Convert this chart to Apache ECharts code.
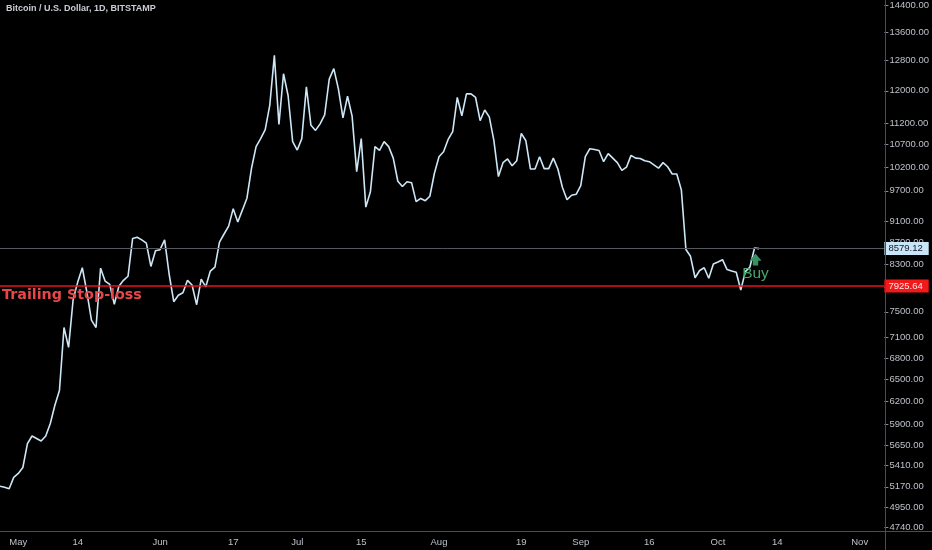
<!DOCTYPE html>
<html>
<head>
<meta charset="utf-8">
<script src="https://cdn.jsdelivr.net/npm/echarts@6/dist/echarts.min.js"></script>
<style>
html,body{margin:0;padding:0;background:#000;}
#c{width:932px;height:550px;}
</style>
</head>
<body>
<div id="c"></div>
<script>
// ---- data ----
const startDate = [2019, 3, 27]; // 27 Apr 2019, one value per day
const closes = [
  5177, 5165, 5150, 5275,
  5320, 5387, 5667, 5760, 5730, 5700, 5760, 5915, 6150, 6345,
  7254, 6954, 7703, 7990, 8237, 7820, 7369, 7254, 8230, 8006,
  7950, 7622, 7920, 8020, 8090, 8765, 8790, 8740, 8680, 8260, 8540,
  8560, 8740, 8120, 7664, 7770, 7810, 8020, 7940, 7615, 8040,
  7910, 8180, 8250, 8700, 8850, 9000, 9340, 9080, 9310, 9550,
  10177, 10656, 10840, 11050, 11640, 12938, 11170, 12442, 11880, 10770,
  10580, 10840, 12100, 11150, 11030, 11185, 11400, 12300, 12580, 12050,
  11330, 11860, 11370, 10106, 10840, 9370, 9680, 10656, 10570, 10770,
  10656, 10400, 9900, 9790, 9890, 9870, 9480, 9545, 9500, 9590, 10070,
  10430, 10540, 10820, 11000, 11830, 11380, 11920, 11920, 11830, 11260,
  11520, 11353, 10800, 10000, 10300, 10380, 10230, 10340, 10960, 10790,
  10160, 10160, 10430, 10170, 10170, 10400, 10160, 9770, 9520, 9610, 9630,
  9810, 10430, 10610, 10590, 10570, 10320, 10500, 10400, 10300, 10130,
  10200, 10460, 10400, 10390, 10340, 10320, 10250, 10180, 10300, 10210,
  10055, 10055, 9720, 8562, 8440, 8064, 8190, 8237, 8055, 8305,
  8340, 8380, 8205, 8180, 8160, 7857, 8170, 8250, 8590, 8579.12
];
const yTicks = [4740, 4950, 5170, 5410, 5650, 5900, 6200, 6500, 6800, 7100, 7500, 7900,
  8300, 8700, 9100, 9700, 10200, 10700, 11200, 12000, 12800, 13600, 14400];
const xTickDates = [[2019, 4, 1], [2019, 4, 14], [2019, 5, 1], [2019, 5, 17], [2019, 6, 1],
  [2019, 6, 15], [2019, 7, 1], [2019, 7, 19], [2019, 8, 1], [2019, 8, 16], [2019, 9, 1],
  [2019, 9, 14], [2019, 10, 1]];
const monthNames = ['Jan','Feb','Mar','Apr','May','Jun','Jul','Aug','Sep','Oct','Nov','Dec'];
const lastPrice = 8579.12;
const stopLoss = 7925.64;
const buyDate = [2019, 9, 9];
const titleText = 'Bitcoin / U.S. Dollar, 1D, BITSTAMP';
const stopLabel = 'Trailing Stop-loss';
const buyLabel = 'Buy';

// ---- build ----
const toTs = (d) => new Date(d[0], d[1], d[2]).getTime();
const seriesData = closes.map((v, i) => [new Date(startDate[0], startDate[1], startDate[2] + i).getTime(), v]);
const xMin = toTs(startDate);
const xMax = xMin + 193.4 * 86400000;
const xTickValues = xTickDates.map(toTs);
const font = '"Liberation Sans", Arial, sans-serif';
const axisText = '#bcc0c9';
const frame = '#4a4d55';

const chart = echarts.init(document.getElementById('c'));
chart.setOption({
  backgroundColor: '#000000',
  animation: false,
  grid: { left: 0, right: 47, top: 0, bottom: 19 },
  xAxis: {
    type: 'value',
    min: xMin,
    max: xMax,
    axisLine: { show: false },
    axisTick: { show: false },
    splitLine: { show: false },
    axisLabel: {
      customValues: xTickValues,
      color: axisText,
      fontSize: 9.5,
      fontFamily: font,
      margin: 6,
      hideOverlap: false,
      formatter: function (v) {
        const d = new Date(v);
        return d.getDate() === 1 ? monthNames[d.getMonth()] : String(d.getDate());
      }
    }
  },
  yAxis: {
    type: 'log',
    position: 'right',
    min: 4707,
    max: 14482,
    axisLine: { show: false },
    splitLine: { show: false },
    minorTick: { show: false },
    axisTick: { show: true, customValues: yTicks, length: 4, lineStyle: { color: '#8a8d95' } },
    axisLabel: {
      customValues: yTicks,
      color: axisText,
      fontSize: 9.5,
      fontFamily: font,
      margin: 5,
      hideOverlap: false,
      formatter: function (v) { return Number(v).toFixed(2); }
    }
  },
  graphic: [
    { type: 'line', shape: { x1: 0, y1: 531.5, x2: 932, y2: 531.5 }, style: { stroke: frame, lineWidth: 1 }, z: 10 },
    { type: 'line', shape: { x1: 885.5, y1: 0, x2: 885.5, y2: 550 }, style: { stroke: frame, lineWidth: 1 }, z: 10 },
    { type: 'text', left: 6, top: 4, style: { text: titleText, fill: '#c9ccd4', font: 'bold 9px ' + font } }
  ],
  series: [{
    type: 'line',
    data: seriesData,
    symbol: 'none',
    lineStyle: { color: '#cde7f7', width: 1.6 },
    markLine: {
      symbol: 'none',
      silent: true,
      animation: false,
      data: [
        {
          yAxis: lastPrice,
          lineStyle: { color: '#55585f', width: 1, type: 'solid' },
          label: {
            show: true, position: 'end', distance: 0,
            formatter: function () { return lastPrice.toFixed(2); },
            backgroundColor: '#c8e6f8', color: '#131722', padding: [2, 6, 1, 4],
            fontSize: 9.5, fontFamily: font
          }
        },
        {
          yAxis: stopLoss,
          lineStyle: { color: '#e8141c', width: 1.5, type: 'solid' },
          label: {
            show: true, position: 'end', distance: 0,
            formatter: function () { return stopLoss.toFixed(2); },
            backgroundColor: '#f01a1a', color: '#ffe8e8', padding: [2, 6, 1, 4],
            fontSize: 9.5, fontFamily: font
          }
        },
        {
          yAxis: stopLoss,
          lineStyle: { color: 'rgba(0,0,0,0)', width: 0, type: 'solid' },
          label: {
            show: true, position: 'insideStartBottom', distance: 2,
            formatter: stopLabel,
            color: '#e8474a', fontSize: 14.3, fontWeight: 'bold', fontFamily: '"DejaVu Sans", sans-serif'
          }
        }
      ]
    },
    markPoint: {
      silent: true,
      animation: false,
      data: [
        {
          coord: [toTs(buyDate), lastPrice],
          symbol: 'path://M5.5,0 L11,6.5 L8,6.5 L8,11 L3,11 L3,6.5 L0,6.5 Z',
          symbolSize: [12, 12],
          symbolOffset: [1, 11],
          itemStyle: { color: '#3a8f62' },
          label: { show: false }
        },
        {
          coord: [toTs(buyDate), lastPrice],
          symbol: 'circle',
          symbolSize: 0,
          label: {
            show: true, position: 'inside', offset: [1, 25],
            formatter: buyLabel, color: '#4aa56e', fontSize: 15.5, fontFamily: font
          }
        }
      ]
    }
  }]
});
</script>
</body>
</html>
